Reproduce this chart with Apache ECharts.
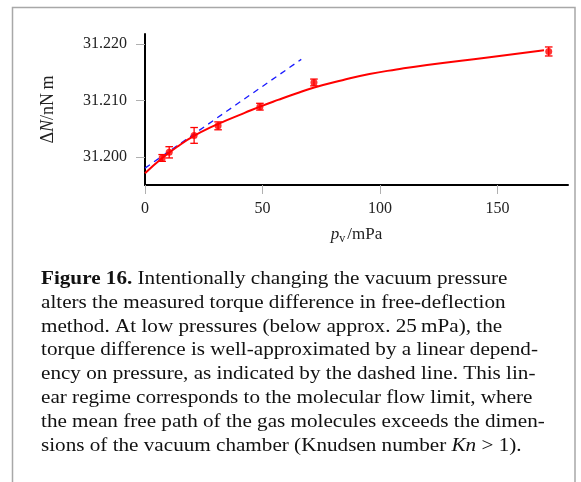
<!DOCTYPE html>
<html>
<head>
<meta charset="utf-8">
<script src="https://cdn.jsdelivr.net/npm/echarts@6/dist/echarts.min.js"></script>
<style>
html,body{margin:0;padding:0;background:#fff;}
#chart{width:581px;height:482px;}
</style>
</head>
<body>
<div id="chart"></div>
<script>
// Measured data points: pressure p_v (mPa), torque difference ΔN (nN m), error (nN m)
var pressure = [7.3, 10.3, 20.9, 31.1, 48.9, 71.9, 171.8];
var deltaN   = [31.1998, 31.2008, 31.2038, 31.2055, 31.2089, 31.2132, 31.2187];
var errorN   = [0.0006, 0.0010, 0.0014, 0.0007, 0.0006, 0.0006, 0.0008];

// Fitted curve (red)
var fitP = [0, 7.1, 14.1, 21.2, 28.3, 35.4, 42.4, 49.5, 56.6, 64, 72, 84, 95.5, 107, 120, 145, 169.8];
var fitN = [31.1971, 31.1997, 31.2019, 31.2038, 31.2053, 31.2066, 31.2078, 31.2090, 31.2101,
            31.2112, 31.2123, 31.2136, 31.2147, 31.2155, 31.2163, 31.2176, 31.2189];

// Linear low-pressure approximation (dashed blue)
var linP = [0, 66.5];
var linN = [31.1980, 31.2173];

// Axis ticks
var xTicks = [0, 50, 100, 150];
var yTicks = [31.200, 31.210, 31.220];

var captionLines = [
  '{b|Figure 16.} Intentionally changing the vacuum pressure',
  'alters the measured torque difference in free-deflection',
  'method. At low pressures (below approx. 25\u2009mPa), the',
  'torque difference is well-approximated by a linear depend-',
  'ency on pressure, as indicated by the dashed line. This lin-',
  'ear regime corresponds to the molecular flow limit, where',
  'the mean free path of the gas molecules exceeds the dimen-',
  'sions of the vacuum chamber (Knudsen number {i|Kn} > 1).'
];

var SERIF = '"Liberation Serif", "DejaVu Serif", serif';

function zip(a, b) { return a.map(function (v, i) { return [v, b[i]]; }); }

var errData = pressure.map(function (p, i) {
  return [p, deltaN[i] - errorN[i], deltaN[i] + errorN[i]];
});

var capFont = 19;
var graphics = [{
  type: 'rect',
  shape: { x: 12.5, y: 7.5, width: 562.5, height: 520 },
  style: { fill: 'none', stroke: '#a8a8a8', lineWidth: 1.5 },
  silent: true
}];
captionLines.forEach(function (t, i) {
  graphics.push({
    type: 'text',
    x: 41,
    y: 279 + i * 23.8,
    scaleX: 1.113,
    style: {
      text: t,
      fontFamily: SERIF,
      fontSize: capFont,
      fill: '#111',
      verticalAlign: 'middle',
      align: 'left',
      rich: {
        b: { fontWeight: 'bold', fontFamily: SERIF, fontSize: capFont, fill: '#111' },
        i: { fontStyle: 'italic', fontFamily: SERIF, fontSize: capFont, fill: '#111' }
      }
    }
  });
});

var chart = echarts.init(document.getElementById('chart'), null, { renderer: 'canvas' });
chart.setOption({
  backgroundColor: '#fff',
  animation: false,
  grid: { left: 145, top: 34, width: 423, height: 151, containLabel: false },
  xAxis: {
    type: 'value',
    min: 0,
    max: 180,
    name: '{i|p}{s|v}{r|/mPa}',
    nameLocation: 'middle',
    nameGap: 40,
    nameTextStyle: {
      rich: {
        i: { fontFamily: SERIF, fontStyle: 'italic', fontSize: 17, color: '#222' },
        s: { fontFamily: SERIF, fontSize: 12, color: '#222', padding: [8, 2, 0, 0] },
        r: { fontFamily: SERIF, fontSize: 17, color: '#222' }
      }
    },
    axisLine: { show: true, onZero: false, lineStyle: { color: '#000', width: 2 } },
    axisTick: { show: true, inside: false, length: 9, customValues: xTicks, lineStyle: { color: '#b0b0b0', width: 1 } },
    axisLabel: { customValues: xTicks, margin: 16, fontFamily: SERIF, fontSize: 16, color: '#222' },
    splitLine: { show: false }
  },
  yAxis: {
    type: 'value',
    min: 31.195,
    max: 31.2218,
    name: '{r|Δ}{i|N}{r|/nN\u2009m}',
    nameLocation: 'middle',
    nameRotate: 90,
    nameGap: 88,
    nameTextStyle: {
      rich: {
        i: { fontFamily: SERIF, fontStyle: 'italic', fontSize: 18, color: '#222' },
        r: { fontFamily: SERIF, fontSize: 18, color: '#222' }
      }
    },
    axisLine: { show: true, onZero: false, lineStyle: { color: '#000', width: 2 } },
    axisTick: { show: true, inside: false, length: 9, customValues: yTicks, lineStyle: { color: '#b0b0b0', width: 1 } },
    axisLabel: {
      customValues: yTicks, margin: 18, fontFamily: SERIF, fontSize: 16, color: '#222',
      formatter: function (v) { return v.toFixed(3); }
    },
    splitLine: { show: false }
  },
  series: [
    {
      type: 'line',
      data: zip(linP, linN),
      symbol: 'none',
      lineStyle: { color: '#1a1aff', width: 1.3, type: [6, 5] },
      z: 1
    },
    {
      type: 'line',
      data: zip(fitP, fitN),
      symbol: 'none',
      smooth: 0.5,
      lineStyle: { color: '#ff0000', width: 2 },
      z: 2
    },
    {
      type: 'custom',
      data: errData,
      z: 3,
      renderItem: function (params, api) {
        var x = api.value(0);
        var lo = api.coord([x, api.value(1)]);
        var hi = api.coord([x, api.value(2)]);
        var w = 3.8;
        var st = { stroke: '#ff0000', lineWidth: 1.3 };
        return {
          type: 'group',
          children: [
            { type: 'line', shape: { x1: lo[0], y1: lo[1], x2: hi[0], y2: hi[1] }, style: st },
            { type: 'line', shape: { x1: lo[0] - w, y1: lo[1], x2: lo[0] + w, y2: lo[1] }, style: st },
            { type: 'line', shape: { x1: hi[0] - w, y1: hi[1], x2: hi[0] + w, y2: hi[1] }, style: st }
          ]
        };
      }
    },
    {
      type: 'scatter',
      data: zip(pressure, deltaN),
      symbol: 'circle',
      symbolSize: 7,
      itemStyle: { color: '#ff0000' },
      z: 4
    }
  ],
  graphic: graphics
});
</script>
</body>
</html>
